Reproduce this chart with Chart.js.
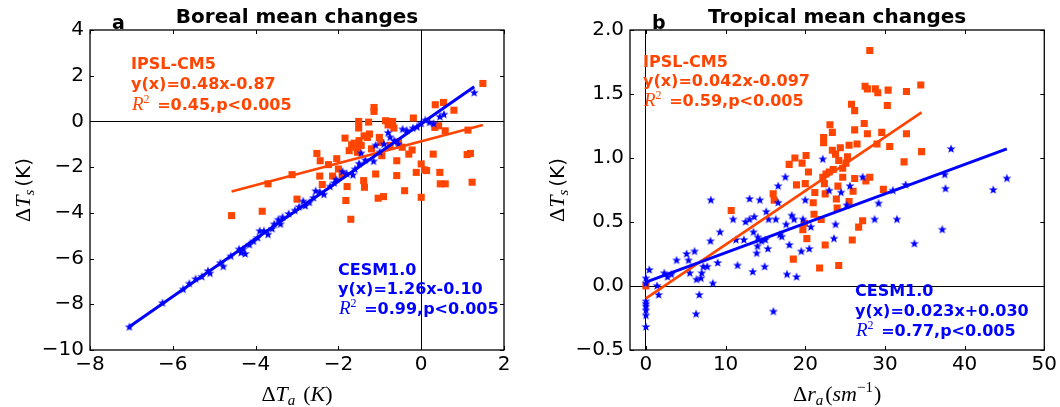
<!DOCTYPE html>
<html>
<head>
<meta charset="utf-8">
<script src="https://cdn.jsdelivr.net/npm/chart.js@4.4.0/dist/chart.umd.min.js"></script>
<style>
  html, body { margin: 0; padding: 0; background: #fff; }
  #wrap { position: relative; width: 1060px; height: 407px; }
  .panel { position: absolute; top: 0; width: 530px; height: 407px; }
</style>
</head>
<body>
<div id="wrap">
  <div class="panel" style="left:0"><canvas id="borealChart" width="530" height="407"></canvas></div>
  <div class="panel" style="left:530px"><canvas id="tropicalChart" width="530" height="407"></canvas></div>
</div>
<script>
// tick values
const borealXTicks = [-8, -6, -4, -2, 0, 2];
const borealYTicks = [-10, -8, -6, -4, -2, 0, 2, 4];
const tropicalXTicks = [0, 10, 20, 30, 40, 50];
const tropicalYTicks = [-0.5, 0, 0.5, 1, 1.5, 2];

// panel a: boreal, IPSL-CM5 (squares)
const borealIpslX = [-4.58, -3.84, -3.70, -3.12, -3.00, -2.52, -2.44, -2.45, -2.39, -2.24, -2.14, -2.04, -2.00, -1.91, -1.84, -1.79, -1.82, -1.70, -1.74, -1.68, -1.58, -1.54, -1.50, -1.51, -1.38, -1.39, -1.37, -1.30, -1.14, -1.14, -1.10, -1.04, -0.91, -1.01, -0.98, -0.86, -0.80, -0.70, -0.66, -0.59, -0.59, -0.40, -0.46, -0.30, -0.22, -0.19, -0.12, 0.00, 0.00, 0.08, 0.13, 0.29, 0.34, 0.54, 0.33, 0.42, 0.45, 0.46, 0.58, 0.58, 0.79, 1.11, 1.19, 1.13, 1.23, 1.49, -1.62, -1.45, -1.25, -1.20, -0.95, -0.75, -0.55, -1.51, -1.27, -0.69];
const borealIpslY = [-4.12, -3.93, -2.73, -2.33, -3.40, -1.40, -1.72, -2.39, -2.76, -1.89, -2.39, -1.63, -2.08, -2.33, -0.73, -2.85, -3.46, -4.28, -1.28, -1.02, -1.13, -1.35, -0.84, -0.29, -0.63, -2.59, -2.88, -0.70, 0.61, 0.44, -2.30, -3.36, -3.29, -0.70, -0.92, 0.03, -0.15, -0.15, -0.29, -1.72, -2.37, -3.03, -1.13, -1.43, -1.25, 0.15, -2.23, -1.86, -3.32, -2.12, -2.15, -1.43, 0.73, 0.83, -0.26, -0.19, -2.23, -2.73, -2.73, -0.41, 0.49, -1.45, -1.40, -0.38, -2.66, 1.66, -0.95, -1.05, -0.55, -1.20, -1.50, -1.05, -0.90, 0.00, -0.03, 0.00];

// panel a: boreal, CESM1.0 (stars)
const borealCesmX = [-7.05, -6.25, -5.75, -5.60, -5.45, -5.30, -5.15, -5.10, -4.85, -4.78, -4.60, -4.40, -4.35, -4.30, -4.25, -4.15, -4.05, -3.95, -3.90, -3.80, -3.70, -3.60, -3.55, -3.45, -3.40, -3.35, -3.20, -3.05, -2.95, -2.85, -2.80, -2.70, -2.60, -2.55, -2.45, -2.35, -2.20, -2.10, -2.05, -1.90, -1.80, -1.65, -1.60, -1.50, -1.45, -1.35, -1.15, -1.10, -1.00, -0.90, -0.80, -0.75, -0.65, -0.55, -0.45, -0.35, -0.20, -0.10, 0.00, 0.10, 0.20, 0.30, 0.45, 0.55, 1.28];
const borealCesmY = [-9.00, -7.95, -7.35, -7.10, -6.90, -6.80, -6.55, -6.65, -6.20, -6.35, -5.90, -5.60, -5.75, -5.60, -5.80, -5.40, -5.25, -5.10, -4.80, -4.80, -4.95, -4.70, -4.50, -4.30, -4.50, -4.20, -4.05, -3.90, -3.75, -3.50, -3.70, -3.55, -3.35, -3.05, -3.10, -3.20, -2.85, -2.70, -2.55, -2.20, -2.30, -2.35, -2.10, -1.85, -1.40, -1.70, -1.75, -1.05, -1.35, -1.00, -0.50, -0.70, -0.85, -1.00, -0.35, -0.40, -0.30, -0.25, -0.10, 0.05, -0.05, -0.10, 0.20, 0.30, 1.25];

// panel b: tropical, IPSL-CM5 (squares)
const tropicalIpslX = [0, 10.7, 15.97, 16.1, 17.98, 18.5, 18.7, 18.9, 19.6, 20.1, 20.0, 20.4, 19.7, 20.2, 19.9, 21.0, 21.2, 21.1, 21.8, 22.2, 22.3, 22.3, 22.4, 22.5, 22.6, 22.0, 22.5, 23.1, 23.4, 23.4, 23.5, 23.9, 24.0, 24.1, 24.2, 23.8, 24.2, 24.4, 24.7, 25.1, 25.3, 25.5, 25.5, 25.8, 26.2, 26.2, 26.2, 26.0, 25.9, 26.5, 26.7, 27.2, 27.4, 27.5, 27.8, 27.8, 27.6, 28.1, 28.1, 28.8, 29.1, 29.0, 29.6, 29.8, 30.4, 30.3, 30.6, 32.7, 32.7, 32.4, 34.5, 34.6, 24.7, 23.0];
const tropicalIpslY = [0.0, 0.59, 0.72, 0.67, 0.95, 0.21, 1.0, 0.79, 0.96, 1.02, 0.80, 0.89, 0.44, 0.37, 0.49, 0.65, 0.73, 0.56, 0.14, 0.85, 1.16, 1.12, 0.80, 0.72, 0.875, 0.52, 0.32, 1.26, 1.20, 1.06, 0.91, 0.68, 0.61, 0.78, 0.16, 1.03, 0.98, 1.08, 0.85, 0.96, 1.01, 1.10, 0.66, 1.42, 1.37, 1.22, 0.84, 0.74, 0.36, 1.11, 0.46, 0.51, 1.27, 1.56, 1.54, 1.19, 0.82, 0.85, 1.84, 1.54, 1.51, 1.11, 1.20, 0.755, 1.53, 1.41, 1.09, 1.52, 1.19, 0.97, 1.57, 1.05, 0.92, 0.89];

// panel b: tropical, CESM1.0 (stars)
const tropicalCesmX = [0, 0, 0, 0, 0, 0, 0, 0, 0.42, 1.6, 1.4, 2.3, 2.7, 3.2, 3.85, 5.1, 5.35, 5.5, 6.1, 6.3, 6.35, 6.7, 6.9, 7.0, 7.2, 7.7, 8.1, 8.15, 8.4, 9.0, 9.3, 10.95, 11.3, 11.5, 12.3, 12.5, 13.0, 13.0, 13.4, 13.5, 13.6, 13.9, 14.0, 14.05, 14.3, 14.5, 14.9, 15.0, 15.1, 15.3, 15.4, 16.0, 16.3, 16.6, 16.6, 16.8, 17.05, 17.5, 17.6, 17.7, 18.0, 18.3, 18.6, 18.9, 19.5, 19.7, 20.0, 20.5, 20.7, 22.2, 23.0, 23.8, 23.6, 24.5, 25.2, 25.6, 27.2, 28.7, 29.2, 31.0, 31.5, 32.6, 33.7, 37.2, 37.5, 37.6, 38.3, 43.6, 45.3];
const tropicalCesmY = [0.06, 0.02, -0.12, -0.14, -0.16, -0.19, -0.23, -0.32, 0.125, -0.07, 0, 0.1, 0.07, 0.09, 0.2, 0.25, 0.2, 0.1, 0.27, -0.22, 0.05, -0.07, 0.06, 0.1, 0.15, 0.15, 0.35, 0.67, 0.02, 0.18, 0.42, 0.52, 0.36, 0.16, 0.36, 0.50, 0.52, 0.68, 0.11, 0.42, 0.54, 0.255, 0.31, 0.38, 0.67, 0.35, 0.15, 0.36, 0.58, 0.29, 0.52, -0.2, 0.52, 0.78, 0.65, 0.40, 0.385, 0.85, 0.48, 0.09, 0.32, 0.55, 0.52, 0.07, 0.27, 0.52, 0.67, 0.29, 0.46, 0.99, 0.745, 0.48, 0.37, 0.73, 0.63, 0.78, 0.85, 0.52, 0.645, 0.745, 0.52, 0.79, 0.33, 0.44, 0.87, 0.76, 1.07, 0.75, 0.84];

// regression fits [slope, intercept]
const borealFitIpsl = [0.48, -0.87];
const borealFitCesm = [1.26, -0.10];
const tropicalFitIpsl = [0.042, -0.097];
const tropicalFitCesm = [0.023, 0.030];

const ORANGE = '#ff4500';
const BLUE = '#0000ff';
const BOLD = 'bold 16px "DejaVu Sans"';
const SERIF = '"Liberation Serif"';

function toPoints(xs, ys) {
  return xs.map((x, i) => ({ x: x, y: ys[i] }));
}

function fitLine(fit, xs) {
  const lo = Math.min(...xs), hi = Math.max(...xs);
  return [{ x: lo, y: fit[0] * lo + fit[1] }, { x: hi, y: fit[0] * hi + fit[1] }];
}

function makeStar(color, r) {
  const c = document.createElement('canvas');
  const s = Math.ceil(r * 2) + 2;
  c.width = s; c.height = s;
  const g = c.getContext('2d');
  g.fillStyle = color;
  g.beginPath();
  for (let i = 0; i < 10; i++) {
    const rad = i % 2 ? r * 0.42 : r;
    const ang = -Math.PI / 2 + i * Math.PI / 5;
    g.lineTo(s / 2 + rad * Math.cos(ang), s / 2 + rad * Math.sin(ang));
  }
  g.closePath();
  g.fill();
  return c;
}
const starImg = makeStar(BLUE, 4.7);

function rsq(txt) {
  return [
    { t: 'R', f: 'italic 19px ' + SERIF },
    { t: '2', f: '12px ' + SERIF, dy: -7 },
    { t: ' =' + txt, f: BOLD, dx: 2 }
  ];
}

// draws a row of text pieces with different fonts
function drawParts(ctx, parts, x, y, align) {
  let total = 0;
  const widths = parts.map(p => {
    ctx.font = p.f;
    const w = ctx.measureText(p.t).width + (p.dx || 0);
    total += w;
    return w;
  });
  let cx = align === 'center' ? x - total / 2 : x;
  parts.forEach((p, i) => {
    ctx.font = p.f;
    ctx.fillText(p.t, cx + (p.dx || 0), y + (p.dy || 0));
    cx += widths[i];
  });
}

const panelDecor = {
  id: 'panelDecor',
  afterDatasetsDraw(chart, args, o) {
    const { ctx, chartArea: a } = chart;
    const xs = chart.scales.x, ys = chart.scales.y;
    ctx.save();
    ctx.strokeStyle = '#000';
    ctx.lineWidth = 1;
    ctx.beginPath();
    xs.ticks.forEach(t => {
      const px = Math.round(xs.getPixelForValue(t.value)) + 0.5;
      ctx.moveTo(px, a.bottom); ctx.lineTo(px, a.bottom - 4);
      ctx.moveTo(px, a.top); ctx.lineTo(px, a.top + 4);
    });
    ys.ticks.forEach(t => {
      const py = Math.round(ys.getPixelForValue(t.value)) + 0.5;
      ctx.moveTo(a.left, py); ctx.lineTo(a.left + 4, py);
      ctx.moveTo(a.right, py); ctx.lineTo(a.right - 4, py);
    });
    ctx.stroke();
    ctx.lineWidth = 1.3;
    ctx.strokeRect(a.left, a.top, a.right - a.left, a.bottom - a.top);

    ctx.textAlign = 'left';
    ctx.textBaseline = 'alphabetic';
    o.notes.forEach(n => {
      ctx.fillStyle = n.color;
      drawParts(ctx, n.parts, n.x, n.y, 'left');
    });

    ctx.fillStyle = '#000';
    const mid = (a.left + a.right) / 2;
    drawParts(ctx, [{ t: o.title, f: 'bold 20px "DejaVu Sans"' }], mid, 23, 'center');
    drawParts(ctx, [{ t: o.letter, f: 'bold 19px "DejaVu Sans"' }], o.letterX, 29, 'left');
    drawParts(ctx, o.xLabel, mid, 401, 'center');
    ctx.translate(o.yLabelX, (a.top + a.bottom) / 2);
    ctx.rotate(-Math.PI / 2);
    drawParts(ctx, o.yLabel, 0, 0, 'center');
    ctx.restore();
  }
};

const yLabelParts = [
  { t: '\u0394', f: '22px ' + SERIF },
  { t: 'T', f: 'italic 22px ' + SERIF },
  { t: 's', f: 'italic 15px ' + SERIF, dy: 4 },
  { t: '(K)', f: '20px "DejaVu Sans"', dx: 3 }
];

function fmtTick(v, digits) {
  const s = digits ? Math.abs(v).toFixed(digits) : String(Math.abs(v));
  return (v < 0 ? '\u2212' : '') + s;
}

function axisOpts(min, max, ticks, digits, fitSize, isX) {
  return {
    type: 'linear',
    min: min,
    max: max,
    afterBuildTicks: s => { s.ticks = ticks.map(v => ({ value: v })); },
    afterFit: s => { if (isX) s.height = fitSize; else s.width = fitSize; },
    border: { display: false },
    grid: {
      drawTicks: false,
      lineWidth: 1,
      color: c => (c.tick && c.tick.value === 0) ? '#000' : 'rgba(0,0,0,0)'
    },
    ticks: {
      color: '#000',
      font: { family: 'DejaVu Sans', size: 20 },
      padding: isX ? 3 : 6,
      maxRotation: 0,
      autoSkip: false,
      callback: v => fmtTick(v, digits)
    }
  };
}

function makePanel(id, cfg) {
  return new Chart(document.getElementById(id), {
    type: 'scatter',
    data: {
      datasets: [
        { type: 'line', data: fitLine(cfg.cesmFit, cfg.cesmX), borderColor: BLUE, borderWidth: 3, pointRadius: 0, fill: false },
        { type: 'line', data: fitLine(cfg.ipslFit, cfg.ipslX), borderColor: ORANGE, borderWidth: 2.6, pointRadius: 0, fill: false },
        { data: toPoints(cfg.cesmX, cfg.cesmY), pointStyle: starImg, pointRadius: 4, backgroundColor: BLUE, borderWidth: 0 },
        { data: toPoints(cfg.ipslX, cfg.ipslY), pointStyle: 'rect', pointRadius: 5, backgroundColor: ORANGE, borderWidth: 0 }
      ]
    },
    options: {
      responsive: false,
      animation: false,
      devicePixelRatio: 1,
      events: [],
      layout: { padding: { left: 0, right: cfg.rightPad, top: 30, bottom: 0 } },
      scales: {
        x: axisOpts(cfg.xMin, cfg.xMax, cfg.xTicks, 0, 57, true),
        y: axisOpts(cfg.yMin, cfg.yMax, cfg.yTicks, cfg.yDigits, cfg.yWidth, false)
      },
      plugins: {
        legend: { display: false },
        tooltip: { enabled: false },
        panelDecor: cfg.decor
      }
    },
    plugins: [panelDecor]
  });
}

makePanel('borealChart', {
  ipslX: borealIpslX, ipslY: borealIpslY, cesmX: borealCesmX, cesmY: borealCesmY,
  ipslFit: borealFitIpsl, cesmFit: borealFitCesm,
  xMin: -8, xMax: 2, yMin: -10, yMax: 4, xTicks: borealXTicks, yTicks: borealYTicks, yDigits: 0,
  yWidth: 90, rightPad: 26,
  decor: {
    title: 'Boreal mean changes',
    letter: 'a', letterX: 112,
    yLabelX: 30,
    yLabel: yLabelParts,
    xLabel: [
      { t: '\u0394', f: '22px ' + SERIF },
      { t: 'T', f: 'italic 22px ' + SERIF },
      { t: 'a', f: 'italic 15px ' + SERIF, dy: 4 },
      { t: '(', f: '22px ' + SERIF, dx: 8 },
      { t: 'K', f: 'italic 22px ' + SERIF },
      { t: ')', f: '22px ' + SERIF }
    ],
    notes: [
      { x: 131, y: 69, color: ORANGE, parts: [{ t: 'IPSL-CM5', f: BOLD }] },
      { x: 131, y: 89, color: ORANGE, parts: [{ t: 'y(x)=0.48x-0.87', f: BOLD }] },
      { x: 132, y: 110, color: ORANGE, parts: rsq('0.45,p<0.005') },
      { x: 338, y: 275, color: BLUE, parts: [{ t: 'CESM1.0', f: BOLD }] },
      { x: 338, y: 294, color: BLUE, parts: [{ t: 'y(x)=1.26x-0.10', f: BOLD }] },
      { x: 339, y: 314, color: BLUE, parts: rsq('0.99,p<0.005') }
    ]
  }
});

makePanel('tropicalChart', {
  ipslX: tropicalIpslX, ipslY: tropicalIpslY, cesmX: tropicalCesmX, cesmY: tropicalCesmY,
  ipslFit: tropicalFitIpsl, cesmFit: tropicalFitCesm,
  xMin: -2, xMax: 50, yMin: -0.5, yMax: 2, xTicks: tropicalXTicks, yTicks: tropicalYTicks, yDigits: 1,
  yWidth: 100, rightPad: 15,
  decor: {
    title: 'Tropical mean changes',
    letter: 'b', letterX: 122,
    yLabelX: 34,
    yLabel: yLabelParts,
    xLabel: [
      { t: '\u0394', f: '22px ' + SERIF },
      { t: 'r', f: 'italic 22px ' + SERIF },
      { t: 'a', f: 'italic 15px ' + SERIF, dy: 4 },
      { t: '(', f: '22px ' + SERIF, dx: 2 },
      { t: 'sm', f: 'italic 22px ' + SERIF },
      { t: '\u22121', f: '15px ' + SERIF, dy: -9 },
      { t: ')', f: '22px ' + SERIF, dx: 1 }
    ],
    notes: [
      { x: 113, y: 67, color: ORANGE, parts: [{ t: 'IPSL-CM5', f: BOLD }] },
      { x: 113, y: 86, color: ORANGE, parts: [{ t: 'y(x)=0.042x-0.097', f: BOLD }] },
      { x: 114, y: 106, color: ORANGE, parts: rsq('0.59,p<0.005') },
      { x: 325, y: 296, color: BLUE, parts: [{ t: 'CESM1.0', f: BOLD }] },
      { x: 325, y: 316, color: BLUE, parts: [{ t: 'y(x)=0.023x+0.030', f: BOLD }] },
      { x: 326, y: 336, color: BLUE, parts: rsq('0.77,p<0.005') }
    ]
  }
});
</script>
</body>
</html>
